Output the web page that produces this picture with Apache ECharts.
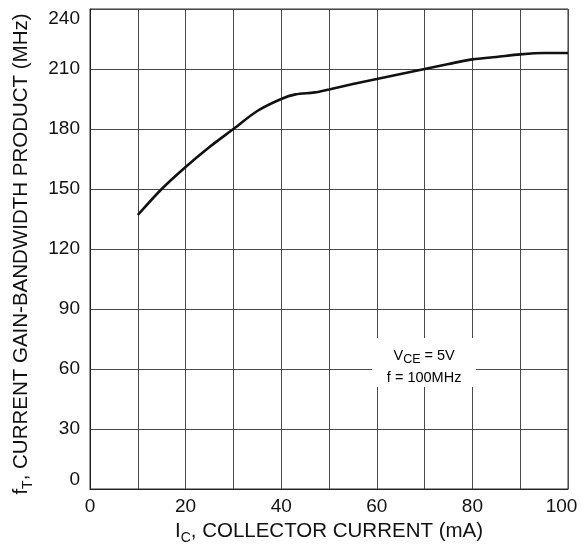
<!DOCTYPE html>
<html>
<head>
<meta charset="utf-8">
<script src="https://cdn.jsdelivr.net/npm/echarts@6/dist/echarts.min.js"></script>
<style>
  html, body { margin: 0; padding: 0; background: #fff; }
  #chart { width: 582px; height: 545px; }
</style>
</head>
<body>
<div id="chart"></div>
<script>
// collector current (mA) and fT (MHz)
const currentMA = [10, 15, 20, 25, 30, 35, 40, 43, 47, 50, 55, 60, 65, 70, 75, 80, 85, 90, 95, 100];
const ftMHz = [137, 150, 161, 171, 180, 189, 195, 197.3, 198.3, 199.8, 202.5, 205, 207.5, 210, 212.5, 214.8, 216, 217.3, 218, 218];
const xTicks = [0, 20, 40, 60, 80, 100];
const yTicks = [0, 30, 60, 90, 120, 150, 180, 210, 240];

const FONT = 'Liberation Sans, Arial, sans-serif';
const chart = echarts.init(document.getElementById('chart'));

const titleRich = {
  a: { fontFamily: FONT, fontSize: 20.5, color: '#111', lineHeight: 28 },
  b: { fontFamily: FONT, fontSize: 14, color: '#111', lineHeight: 4, verticalAlign: 'bottom' }
};

const option = {
  animation: false,
  grid: {
    left: 90, right: 14, top: 9, bottom: 56,
    outerBoundsMode: 'none', containLabel: false,
    show: true, borderColor: '#333', borderWidth: 1
  },
  xAxis: {
    type: 'value', min: 0, max: 100, interval: 10,
    name: '{a|I}{b|C}{a|, COLLECTOR CURRENT (mA)}',
    nameLocation: 'middle', nameGap: 27,
    nameTextStyle: { rich: titleRich },
    axisLine: { lineStyle: { color: '#222' } },
    axisTick: { show: false },
    axisLabel: {
      margin: 8, color: '#111', fontSize: 19, fontFamily: FONT,
      formatter: v => {
        if (xTicks.indexOf(v) < 0) return '';
        return v === 100 ? '{r|100}' : String(v);
      },
      rich: { r: { fontSize: 19, fontFamily: FONT, color: '#111', padding: [0, 13, 0, 0] } }
    },
    splitLine: { lineStyle: { color: '#4a4a4a', width: 1 } }
  },
  yAxis: {
    type: 'value', min: 0, max: 240, interval: 30,
    name: '{a|f}{b|T}{a|, CURRENT GAIN-BANDWIDTH PRODUCT (MHz)}',
    nameLocation: 'middle', nameGap: 55,
    nameTextStyle: { rich: titleRich, padding: [0, 10, 0, 0] },
    axisLine: { show: true, lineStyle: { color: '#222' } },
    axisTick: { show: false },
    axisLabel: {
      margin: 10, color: '#111', fontSize: 19, fontFamily: FONT,
      verticalAlignMinLabel: 'bottom', verticalAlignMaxLabel: 'top',
      formatter: v => (yTicks.indexOf(v) >= 0 ? String(v) : '')
    },
    splitLine: { lineStyle: { color: '#4a4a4a', width: 1 } }
  },
  series: [{
    type: 'line',
    data: currentMA.map((x, i) => [x, ftMHz[i]]),
    smooth: 0.3,
    showSymbol: false,
    lineStyle: { color: '#111', width: 2.6 },
    z: 5
  }]
};
chart.setOption(option);

// condition note, anchored to data coordinates
const p = chart.convertToPixel({ gridIndex: 0 }, [69.9, 59.75]);
chart.setOption({
  graphic: [{
    type: 'group', x: p[0], y: p[1], z: 10,
    children: [
      { type: 'rect', shape: { x: -52, y: -31.5, width: 104, height: 49 }, style: { fill: '#fff' } },
      {
        type: 'text', x: 0, y: -3,
        style: {
          text: '{a|V}{b|CE}{a| = 5V}\n{a|f = 100MHz}',
          align: 'center', verticalAlign: 'middle',
          rich: {
            a: { fontFamily: FONT, fontSize: 14.5, color: '#111', lineHeight: 22 },
            b: { fontFamily: FONT, fontSize: 12.5, color: '#111', lineHeight: 12, verticalAlign: 'bottom' }
          }
        }
      }
    ]
  }]
});
</script>
</body>
</html>
